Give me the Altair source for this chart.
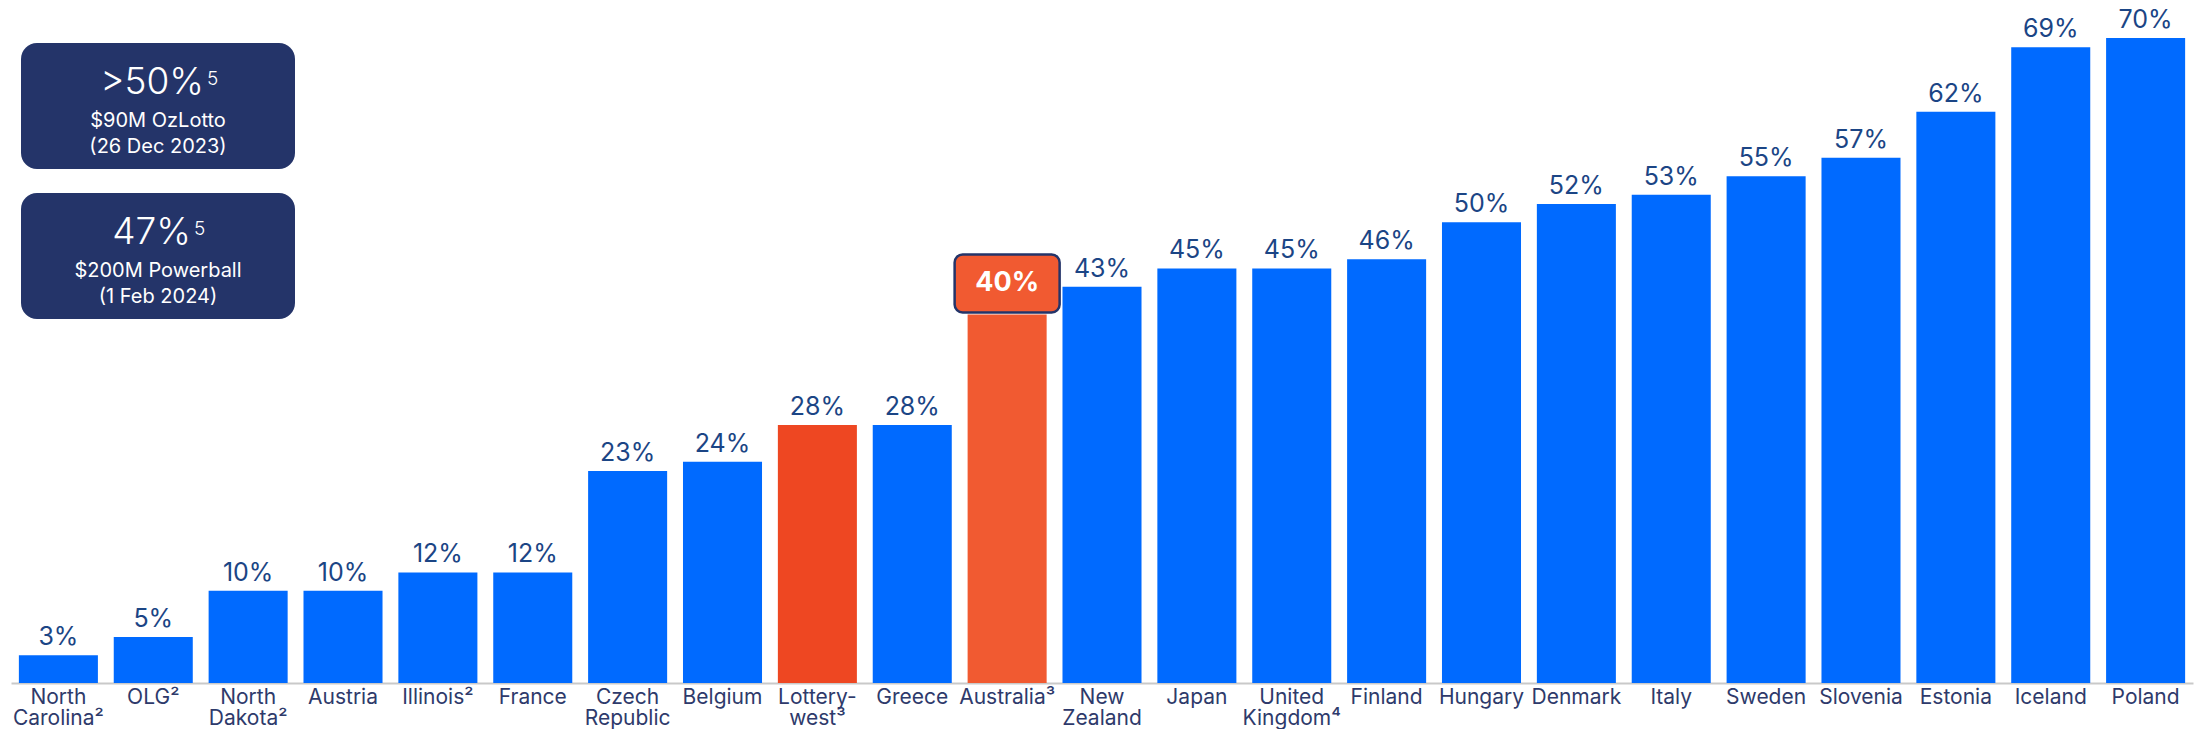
import altair as alt
import pandas as pd

# ---- data ----
categories = ["North|Carolina²", "OLG²", "North|Dakota²", "Austria", "Illinois²", "France",
              "Czech|Republic", "Belgium", "Lottery-|west³", "Greece", "Australia³",
              "New|Zealand", "Japan", "United|Kingdom⁴", "Finland", "Hungary", "Denmark",
              "Italy", "Sweden", "Slovenia", "Estonia", "Iceland", "Poland"]
values = [3, 5, 10, 10, 12, 12, 23, 24, 28, 28, 40, 43, 45, 45, 46, 50, 52, 53, 55, 57, 62, 69, 70]
groups = ["other"] * 8 + ["lotterywest", "other", "australia"] + ["other"] * 12

callout_headlines = [">50%", "47%"]
callout_notes = ["5", "5"]
callout_lines = ["$90M OzLotto\n(26 Dec 2023)", "$200M Powerball\n(1 Feb 2024)"]

df = pd.DataFrame({"cat": categories, "value": values, "group": groups})
df["label"] = df["value"].astype(str) + "%"

# ---- styling / layout ----
FONT = "Inter"
W, H = 2182, 675
BLUE, LW_RED, AUS_ORANGE, NAVY = "#006AFF", "#EE4722", "#F15A31", "#243469"
headline_right = [193, 180]   # pixel anchor of the headline's right edge in each callout

x = alt.X("cat:N", sort=None, title=None,
          scale=alt.Scale(paddingInner=0.167, paddingOuter=0.083),
          axis=alt.Axis(labelExpr="split(datum.label, '|')", labelAngle=0, ticks=False,
                        labelFontSize=21, labelColor="#2E3A6B", labelFont=FONT,
                        labelPadding=3, labelLineHeight=21, domainColor="#C9C9C9",
                        domainWidth=2, labelOverlap=False, labelLimit=300))
y = alt.Y("value:Q", scale=alt.Scale(domain=[0, 73.26], nice=False), axis=None)

base = alt.Chart(df).encode(x=x, y=y)

bars = base.mark_bar().encode(
    color=alt.Color("group:N",
                    scale=alt.Scale(domain=["other", "lotterywest", "australia"],
                                    range=[BLUE, LW_RED, AUS_ORANGE]),
                    legend=None))

labels = base.transform_filter("datum.group != 'australia'").mark_text(
    baseline="alphabetic", dy=-10, fontSize=25, font=FONT, color="#1B4585"
).encode(text="label:N")

aus_box = base.transform_filter("datum.group == 'australia'").mark_bar(
    width=105, cornerRadius=8, yOffset=-2, y2Offset=-60,
    fill=AUS_ORANGE, stroke=NAVY, strokeWidth=2.5
).encode(y2="value:Q")

aus_text = base.transform_filter("datum.group == 'australia'").mark_text(
    baseline="middle", dy=-31, fontSize=27, fontWeight="bold", font=FONT, color="white"
).encode(text="label:N")

layers = [bars, labels, aus_box, aus_text]

for i, (head, note, sub) in enumerate(zip(callout_headlines, callout_notes, callout_lines)):
    top = 35 + i * 150
    cdf = pd.DataFrame({"head": [head], "note": [note], "sub": [sub]})
    c = alt.Chart(cdf)
    layers.append(c.mark_rect(cornerRadius=16, color=NAVY).encode(
        x=alt.value(10), x2=alt.value(284), y=alt.value(top), y2=alt.value(top + 126)))
    layers.append(c.mark_text(fontSize=37, font=FONT, fontWeight=300, color="white",
                              baseline="alphabetic", align="right").encode(
        x=alt.value(headline_right[i]), y=alt.value(top + 51), text="head:N"))
    layers.append(c.mark_text(fontSize=19, font=FONT, fontWeight=300, color="white",
                              baseline="alphabetic", align="left").encode(
        x=alt.value(headline_right[i] + 3), y=alt.value(top + 42), text="note:N"))
    layers.append(c.mark_text(fontSize=20, font=FONT, color="white", baseline="alphabetic",
                              lineBreak="\n", lineHeight=26).encode(
        x=alt.value(147), y=alt.value(top + 84), text="sub:N"))

chart = alt.layer(*layers).properties(
    width=W, height=H,
    autosize=alt.AutoSizeParams(type="none"),
    padding={"left": 3, "top": 0, "right": 2, "bottom": 46},
).configure_view(stroke=None)

chart.save("out.html", embed_options={"renderer": "svg", "actions": False})
